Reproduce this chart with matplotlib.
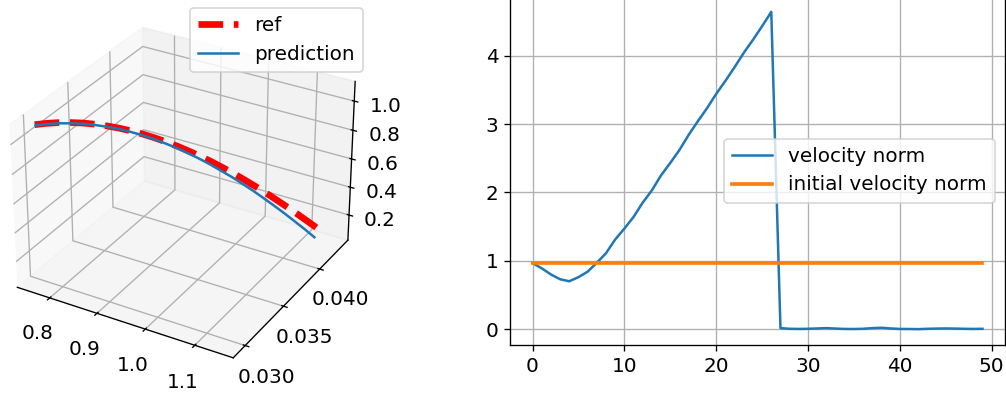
import numpy as np
import matplotlib
matplotlib.use("Agg")
import matplotlib.pyplot as plt

# ---- 3D trajectory data (approximate) ----
ref_x = [0.7510, 0.7670, 0.7831, 0.7991, 0.8152, 0.8312, 0.8472, 0.8633, 0.8793, 0.8954,
         0.9114, 0.9274, 0.9435, 0.9595, 0.9756, 0.9916, 1.0076, 1.0237, 1.0397, 1.0558,
         1.0718, 1.0878, 1.1039, 1.1199, 1.1360, 1.1520]
ref_y = [0.03010, 0.03058, 0.03107, 0.03155, 0.03204, 0.03252, 0.03300, 0.03349, 0.03397, 0.03446,
         0.03494, 0.03542, 0.03591, 0.03639, 0.03688, 0.03736, 0.03784, 0.03833, 0.03881, 0.03930,
         0.03978, 0.04026, 0.04075, 0.04123, 0.04172, 0.04220]
ref_z = [1.0800, 1.0818, 1.0793, 1.0727, 1.0621, 1.0475, 1.0292, 1.0073, 0.9818, 0.9530,
         0.9209, 0.8857, 0.8475, 0.8065, 0.7627, 0.7164, 0.6675, 0.6163, 0.5629, 0.5074,
         0.4500, 0.3907, 0.3298, 0.2672, 0.2033, 0.1380]
pred_x = [0.7530, 0.7690, 0.7850, 0.8009, 0.8169, 0.8327, 0.8485, 0.8644, 0.8801, 0.8958,
          0.9115, 0.9271, 0.9427, 0.9583, 0.9738, 0.9893, 1.0047, 1.0202, 1.0355, 1.0509,
          1.0661, 1.0813, 1.0966, 1.1117, 1.1269, 1.1420]
pred_y = [0.03010, 0.03058, 0.03107, 0.03154, 0.03202, 0.03249, 0.03296, 0.03344, 0.03390, 0.03437,
          0.03483, 0.03528, 0.03575, 0.03620, 0.03666, 0.03711, 0.03755, 0.03801, 0.03845, 0.03890,
          0.03933, 0.03977, 0.04021, 0.04064, 0.04108, 0.04150]
pred_z = [1.0770, 1.0788, 1.0763, 1.0697, 1.0591, 1.0445, 1.0262, 1.0043, 0.9788, 0.9500,
          0.9179, 0.8827, 0.8445, 0.8035, 0.7597, 0.7134, 0.6645, 0.6133, 0.5599, 0.5044,
          0.4470, 0.3877, 0.3268, 0.2642, 0.2003, 0.1350]

# ---- velocity norm data ----
steps = list(range(50))
velocity_norm = [0.966, 0.89, 0.80, 0.73, 0.70, 0.76, 0.84, 0.97, 1.11, 1.31,
                 1.47, 1.64, 1.85, 2.03, 2.25, 2.43, 2.62, 2.84, 3.04, 3.23,
                 3.44, 3.63, 3.83, 4.04, 4.23, 4.43, 4.64, 0.015, 0.005, 0.003,
                 0.005, 0.010, 0.015, 0.008, 0.003, 0.002, 0.005, 0.015, 0.020, 0.010,
                 0.003, 0.002, 0.000, 0.005, 0.008, 0.010, 0.008, 0.005, 0.003, 0.005]
initial_velocity_norm = [0.966] * 50

plt.rcParams['font.size'] = 12

DPI = 120
fig = plt.figure(figsize=(1006 / DPI, 399 / DPI), dpi=DPI)

ax3 = fig.add_axes([-0.0116, 0.0275, 0.382, 0.993], projection='3d')
ax3.plot(ref_x, ref_y, ref_z, 'r--', lw=4, label='ref')
ax3.plot(pred_x, pred_y, pred_z, color='C0', lw=1.5, label='prediction')
ax3.set_xlim(0.730, 1.176)
ax3.set_ylim(0.0285, 0.0441)
ax3.set_zlim(0.017, 1.133)
ax3.set_yticks([0.030, 0.035, 0.040])
ax3.set_xticks([0.8, 0.9, 1.0, 1.1])
ax3.set_zticks([0.2, 0.4, 0.6, 0.8, 1.0])
ax3.legend(loc='upper right')

ax = fig.add_axes([510 / 1006, 54 / 399, 495 / 1006, 349 / 399])
ax.plot(steps, velocity_norm, color='C0', lw=1.5, label='velocity norm')
ax.plot(steps, initial_velocity_norm, color='C1', lw=2.2, label='initial velocity norm')
ax.grid(True)
ax.legend(loc='center right')

fig.savefig('out.png', dpi=DPI)
